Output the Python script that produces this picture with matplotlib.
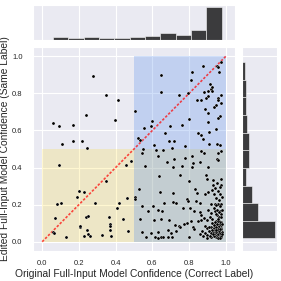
import matplotlib
matplotlib.use("Agg")
import matplotlib.pyplot as plt
import seaborn as sns
import numpy as np

# points: (original confidence, edited confidence)
upper_left = [(0.060, 0.642), (0.091, 0.626), (0.170, 0.631), (0.240, 0.686), (0.277, 0.894),
	(0.350, 0.791), (0.412, 0.765), (0.394, 0.658), (0.107, 0.526), (0.170, 0.544),
	(0.219, 0.542), (0.245, 0.506)]

lower_left = [(0.093, 0.415), (0.347, 0.325), (0.201, 0.276), (0.230, 0.269), (0.192, 0.241),
	(0.100, 0.210), (0.082, 0.202), (0.290, 0.207), (0.069, 0.128), (0.241, 0.134),
	(0.249, 0.139), (0.205, 0.079), (0.207, 0.087), (0.245, 0.062), (0.249, 0.044),
	(0.229, 0.030), (0.261, 0.030), (0.325, 0.034), (0.127, 0.027), (0.058, 0.052),
	(0.062, 0.046), (0.363, 0.132), (0.368, 0.095), (0.372, 0.087), (0.368, 0.064),
	(0.376, 0.032), (0.421, 0.207), (0.410, 0.183), (0.439, 0.121), (0.470, 0.059),
	(0.461, 0.235), (0.454, 0.415), (0.483, 0.437)]

upper_right = [(0.505, 0.706), (0.524, 0.561), (0.530, 0.551), (0.649, 0.898), (0.648, 0.809),
	(0.876, 0.950), (0.817, 0.916), (0.951, 0.947), (0.960, 0.941), (0.973, 0.968),
	(0.965, 0.914), (0.811, 0.872), (0.746, 0.791), (0.795, 0.802), (0.880, 0.807),
	(0.902, 0.813), (0.913, 0.850), (0.920, 0.825), (0.927, 0.836), (0.924, 0.813),
	(0.893, 0.777), (0.904, 0.786), (0.958, 0.777), (0.976, 0.791), (0.958, 0.765),
	(0.844, 0.766), (0.867, 0.763), (0.976, 0.749), (0.947, 0.736), (0.938, 0.727),
	(0.887, 0.713), (0.904, 0.694), (0.802, 0.661), (0.971, 0.678), (0.958, 0.665),
	(0.902, 0.644), (0.599, 0.651), (0.555, 0.615), (0.590, 0.622), (0.698, 0.626),
	(0.764, 0.629), (0.944, 0.608), (0.909, 0.594), (0.849, 0.588), (0.864, 0.578),
	(0.671, 0.585), (0.878, 0.552), (0.693, 0.544), (0.717, 0.545), (0.608, 0.520),
	(0.709, 0.508), (0.777, 0.515), (0.951, 0.526), (0.969, 0.519), (0.910, 0.528)]

lower_right = [(0.551, 0.499), (0.621, 0.497), (0.657, 0.497), (0.973, 0.487), (0.958, 0.481),
	(0.866, 0.488), (0.880, 0.480), (0.546, 0.480), (0.628, 0.460), (0.720, 0.444),
	(0.775, 0.453), (0.818, 0.460), (0.954, 0.444), (0.562, 0.408), (0.678, 0.430),
	(0.762, 0.410), (0.820, 0.423), (0.858, 0.431), (0.955, 0.438), (0.711, 0.403),
	(0.816, 0.403), (0.904, 0.403), (0.635, 0.353), (0.751, 0.362), (0.893, 0.360),
	(0.895, 0.340), (0.929, 0.335), (0.973, 0.338), (0.802, 0.326), (0.954, 0.317),
	(0.976, 0.305), (0.931, 0.305), (0.969, 0.296), (0.940, 0.290), (0.526, 0.287),
	(0.644, 0.266), (0.715, 0.264), (0.831, 0.283), (0.845, 0.262), (0.887, 0.257),
	(0.905, 0.267), (0.956, 0.273), (0.936, 0.255), (0.506, 0.242), (0.504, 0.232),
	(0.666, 0.210), (0.715, 0.214), (0.728, 0.210), (0.788, 0.228), (0.795, 0.222),
	(0.835, 0.221), (0.860, 0.207), (0.920, 0.205), (0.942, 0.203), (0.956, 0.205),
	(0.976, 0.205), (0.543, 0.191), (0.603, 0.194), (0.628, 0.171), (0.575, 0.166),
	(0.655, 0.167), (0.766, 0.180), (0.806, 0.180), (0.826, 0.164), (0.858, 0.159),
	(0.864, 0.144), (0.905, 0.171), (0.918, 0.157), (0.942, 0.164), (0.954, 0.169),
	(0.971, 0.164), (0.976, 0.150), (0.951, 0.143), (0.962, 0.135), (0.532, 0.123),
	(0.608, 0.119), (0.648, 0.123), (0.688, 0.116), (0.866, 0.118), (0.883, 0.128),
	(0.900, 0.118), (0.915, 0.132), (0.925, 0.121), (0.849, 0.111), (0.791, 0.103),
	(0.813, 0.111), (0.947, 0.111), (0.965, 0.112), (0.976, 0.109), (0.724, 0.089),
	(0.744, 0.086), (0.771, 0.096), (0.751, 0.077), (0.820, 0.082), (0.829, 0.070),
	(0.889, 0.086), (0.895, 0.073), (0.922, 0.080), (0.935, 0.073), (0.946, 0.089),
	(0.956, 0.078), (0.969, 0.082), (0.976, 0.075), (0.541, 0.055), (0.592, 0.046),
	(0.628, 0.053), (0.684, 0.062), (0.701, 0.048), (0.731, 0.057), (0.869, 0.057),
	(0.887, 0.046), (0.900, 0.037), (0.878, 0.032), (0.931, 0.055), (0.942, 0.044),
	(0.954, 0.053), (0.965, 0.046), (0.974, 0.039), (0.946, 0.028), (0.960, 0.025),
	(0.973, 0.025), (0.568, 0.025), (0.617, 0.023), (0.631, 0.018), (0.648, 0.023),
	(0.659, 0.025), (0.686, 0.025), (0.706, 0.027), (0.802, 0.025), (0.860, 0.039),
	(0.900, 0.020), (0.920, 0.027)]

# overlapping points in the dense corner, estimated from the marginal histograms
dense_corner = [(0.962, 0.031), (0.968, 0.036), (0.975, 0.029), (0.951, 0.034), (0.958, 0.041),
	(0.971, 0.049), (0.977, 0.055), (0.948, 0.052), (0.939, 0.061), (0.963, 0.060),
	(0.972, 0.066), (0.955, 0.069), (0.944, 0.077), (0.961, 0.085), (0.975, 0.088),
	(0.968, 0.094), (0.952, 0.098), (0.933, 0.092), (0.927, 0.064), (0.918, 0.047),
	(0.911, 0.058), (0.906, 0.081), (0.924, 0.102), (0.941, 0.106), (0.966, 0.104),
	(0.978, 0.098), (0.957, 0.022), (0.969, 0.019), (0.977, 0.042), (0.936, 0.033),
	(0.913, 0.030), (0.928, 0.041), (0.949, 0.063), (0.970, 0.071), (0.960, 0.110),
	(0.957, 0.124), (0.972, 0.131), (0.946, 0.151), (0.963, 0.158), (0.978, 0.171),
	(0.935, 0.184), (0.966, 0.192), (0.949, 0.199), (0.962, 0.226), (0.977, 0.241),
	(0.948, 0.236), (0.971, 0.259), (0.925, 0.281)]

pts = np.array(upper_left + lower_left + upper_right + lower_right + dense_corner)
x = pts[:, 0]
y = pts[:, 1]

sns.set_style("darkgrid")
plt.rcParams['font.family'] = ['Liberation Sans', 'DejaVu Sans']

fig = plt.figure(figsize=(2.81, 2.81), dpi=100)
ax = fig.add_axes([33/281, 30/281, 202/281, 204/281])
ax_top = fig.add_axes([33/281, 241/281, 202/281, 35/281], sharex=ax)
ax_right = fig.add_axes([242/281, 30/281, 35/281, 204/281], sharey=ax)

# shaded quadrants (yellow first, blue on top gives the grey-green overlap)
ax.add_patch(plt.Rectangle((0.0, 0.0), 1.0, 0.5, color='gold', alpha=0.18, lw=0))
ax.add_patch(plt.Rectangle((0.5, 0.0), 0.5, 1.0, color='cornflowerblue', alpha=0.3, lw=0))

ax.plot([0, 1], [0, 1], color='red', alpha=0.7, lw=1.2, linestyle=(0, (1.5, 1.0)))
ax.scatter(x, y, s=5, color='black', edgecolor='white', linewidths=0.2, zorder=3)

ax.set_xlim(-0.05, 1.05)
ax.set_ylim(-0.05, 1.05)
ticks = [0.0, 0.2, 0.4, 0.6, 0.8, 1.0]
ax.set_xticks(ticks)
ax.set_yticks(ticks)
ax.tick_params(labelsize=5.5, colors='.15')
ax.tick_params(axis='x', pad=3)
ax.tick_params(axis='y', pad=4)
ax.set_xlabel("Original Full-Input Model Confidence (Correct Label)", fontsize=7.4, labelpad=1.5, color='.15')
ax.set_ylabel("Edited Full-Input Model Confidence (Same Label)", fontsize=7.4, labelpad=1.5, color='.15')
for a in [ax, ax_top, ax_right]:
	a.grid(True, color='white', lw=0.8)

ax_top.hist(x, bins=11, color='black', alpha=0.75, edgecolor='white', linewidth=0.5)
ax_right.hist(y, bins=10, orientation='horizontal', color='black', alpha=0.75, edgecolor='white', linewidth=0.5)

plt.setp(ax_top.get_xticklabels(), visible=False)
plt.setp(ax_top.get_yticklabels(), visible=False)
plt.setp(ax_right.get_xticklabels(), visible=False)
plt.setp(ax_right.get_yticklabels(), visible=False)
ax_top.yaxis.grid(False)
ax_right.xaxis.grid(False)
ax_top.tick_params(length=0)
ax_right.tick_params(length=0)

plt.savefig("out.png", dpi=100)
